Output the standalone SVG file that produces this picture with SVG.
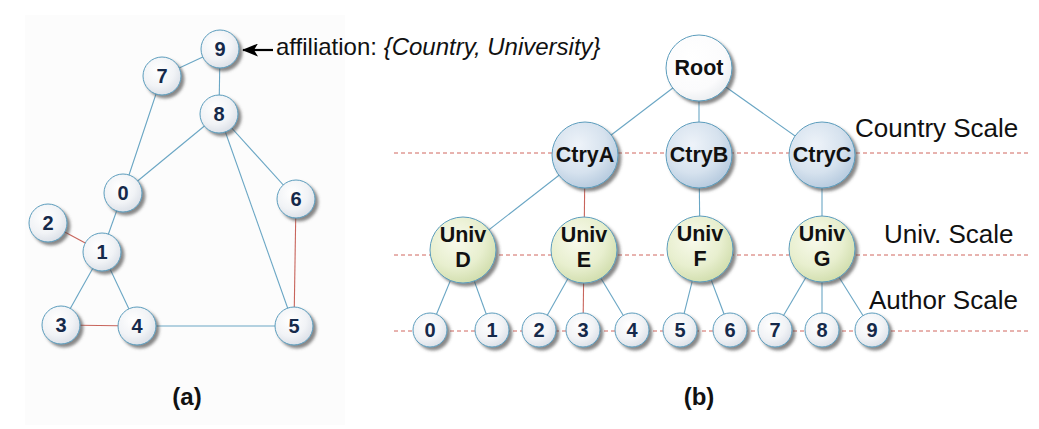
<svg xmlns="http://www.w3.org/2000/svg" width="1039" height="429" viewBox="0 0 1039 429">
<defs>
<filter id="sh" x="-30%" y="-30%" width="170%" height="170%">
<feDropShadow dx="3" dy="3" stdDeviation="1.8" flood-color="#4a4a4a" flood-opacity="0.65"/>
</filter>
<radialGradient id="gN" cx="40%" cy="35%" r="70%">
<stop offset="0" stop-color="#ffffff"/><stop offset="0.6" stop-color="#f1f3f6"/><stop offset="1" stop-color="#d9dee6"/>
</radialGradient>
<radialGradient id="gC" cx="40%" cy="35%" r="70%">
<stop offset="0" stop-color="#eef3f9"/><stop offset="0.6" stop-color="#d6e2ee"/><stop offset="1" stop-color="#b3c8dd"/>
</radialGradient>
<radialGradient id="gU" cx="40%" cy="35%" r="70%">
<stop offset="0" stop-color="#f8faec"/><stop offset="0.6" stop-color="#e8efcf"/><stop offset="1" stop-color="#cfdcaa"/>
</radialGradient>
<radialGradient id="gR" cx="40%" cy="35%" r="70%">
<stop offset="0" stop-color="#ffffff"/><stop offset="0.7" stop-color="#fbfbfc"/><stop offset="1" stop-color="#e9ecef"/>
</radialGradient>
<marker id="arr" viewBox="0 0 16 13" refX="15" refY="6.5" markerWidth="16" markerHeight="13" markerUnits="userSpaceOnUse" orient="auto">
<path d="M0,0 L16,6.5 L0,13 L4,6.5 z" fill="#000"/>
</marker>
<style>
.edge{stroke:#6aa6c4;stroke-width:1.1;fill:none}
.red{stroke:#c8655c}
.scale{stroke:#d0675e;stroke-width:1;stroke-dasharray:4 3;fill:none}
.n circle{stroke:#5b9cbc;stroke-width:1;filter:url(#sh)}
.gn{fill:url(#gN)}
.gc{fill:url(#gC)}
.gu{fill:url(#gU)}
.gr{fill:url(#gR)}
.num{font-family:"Liberation Sans",Arial,sans-serif;font-weight:bold;font-size:20px;fill:#15294a;text-anchor:middle}
.lab{font-family:"Liberation Sans",Arial,sans-serif;font-weight:bold;font-size:21.5px;fill:#111;text-anchor:middle}
.st{font-family:"Liberation Sans",Arial,sans-serif;font-size:26px;fill:#111}
.cap{font-family:"Liberation Sans",Arial,sans-serif;font-weight:bold;font-size:24px;fill:#111;text-anchor:middle}
.aff{font-family:"Liberation Sans",Arial,sans-serif;font-size:24px;fill:#111}
</style>
</defs>
<rect width="1039" height="429" fill="#ffffff"/>
<rect x="25" y="15" width="320" height="410" fill="#fcfcfc"/>

<g id="scales">
<line class="scale" x1="394" y1="153" x2="1028" y2="153"/>
<line class="scale" x1="394" y1="255" x2="1028" y2="255"/>
<line class="scale" x1="394" y1="331" x2="1028" y2="331"/>
</g>

<g id="connectors">
<!-- (a) -->
<line class="edge" x1="220" y1="49" x2="162" y2="76"/>
<line class="edge" x1="220" y1="49" x2="219" y2="114"/>
<line class="edge" x1="162" y1="76" x2="123" y2="193"/>
<line class="edge" x1="219" y1="114" x2="123" y2="193"/>
<line class="edge" x1="219" y1="114" x2="296" y2="199"/>
<line class="edge" x1="219" y1="114" x2="294" y2="326"/>
<line class="edge red" x1="296" y1="199" x2="294" y2="326"/>
<line class="edge" x1="123" y1="193" x2="102" y2="252"/>
<line class="edge red" x1="48" y1="223" x2="102" y2="252"/>
<line class="edge" x1="102" y1="252" x2="61" y2="325"/>
<line class="edge" x1="102" y1="252" x2="137" y2="326"/>
<line class="edge red" x1="61" y1="325" x2="137" y2="326"/>
<line class="edge" x1="137" y1="326" x2="294" y2="326"/>
<line x1="273" y1="50" x2="243" y2="50" stroke="#000" stroke-width="2.2" marker-end="url(#arr)"/>
<!-- (b) -->
<line class="edge" x1="699" y1="68" x2="585" y2="155"/>
<line class="edge" x1="699" y1="68" x2="699" y2="155"/>
<line class="edge" x1="699" y1="68" x2="822" y2="155"/>
<line class="edge" x1="585" y1="155" x2="463" y2="250"/>
<line class="edge red" x1="585" y1="155" x2="584" y2="250"/>
<line class="edge" x1="699" y1="155" x2="700" y2="250"/>
<line class="edge" x1="822" y1="155" x2="822" y2="250"/>
<line class="edge" x1="463" y1="250" x2="430" y2="330"/>
<line class="edge" x1="463" y1="250" x2="492" y2="330"/>
<line class="edge" x1="584" y1="250" x2="539" y2="330"/>
<line class="edge red" x1="584" y1="250" x2="583" y2="330"/>
<line class="edge" x1="584" y1="250" x2="632" y2="330"/>
<line class="edge" x1="700" y1="250" x2="680" y2="330"/>
<line class="edge" x1="700" y1="250" x2="730" y2="330"/>
<line class="edge" x1="822" y1="250" x2="775" y2="330"/>
<line class="edge" x1="822" y1="250" x2="822" y2="330"/>
<line class="edge" x1="822" y1="250" x2="872" y2="330"/>
</g>

<!-- (a) nodes -->
<g id="a9" class="n"><circle class="gn" cx="220" cy="49" r="19"/><text class="num" x="220" y="56">9</text></g>
<g id="a7" class="n"><circle class="gn" cx="162" cy="76" r="19"/><text class="num" x="162" y="83">7</text></g>
<g id="a8" class="n"><circle class="gn" cx="219" cy="114" r="19"/><text class="num" x="219" y="121">8</text></g>
<g id="a0" class="n"><circle class="gn" cx="123" cy="193" r="19"/><text class="num" x="123" y="200">0</text></g>
<g id="a6" class="n"><circle class="gn" cx="296" cy="199" r="19"/><text class="num" x="296" y="206">6</text></g>
<g id="a2" class="n"><circle class="gn" cx="48" cy="223" r="19"/><text class="num" x="48" y="230">2</text></g>
<g id="a1" class="n"><circle class="gn" cx="102" cy="252" r="19"/><text class="num" x="102" y="259">1</text></g>
<g id="a3" class="n"><circle class="gn" cx="61" cy="325" r="19"/><text class="num" x="61" y="332">3</text></g>
<g id="a4" class="n"><circle class="gn" cx="137" cy="326" r="19"/><text class="num" x="137" y="333">4</text></g>
<g id="a5" class="n"><circle class="gn" cx="294" cy="326" r="19"/><text class="num" x="294" y="333">5</text></g>

<text class="aff" x="276" y="55">affiliation: <tspan font-style="italic">{Country, University}</tspan></text>
<text class="cap" x="187" y="405">(a)</text>

<!-- (b) nodes -->
<g id="root" class="n"><circle class="gr" cx="699" cy="68" r="33"/><text class="lab" x="699" y="75">Root</text></g>
<g id="ctryA" class="n"><circle class="gc" cx="585" cy="155" r="33"/><text class="lab" x="585" y="162">CtryA</text></g>
<g id="ctryB" class="n"><circle class="gc" cx="699" cy="155" r="33"/><text class="lab" x="699" y="162">CtryB</text></g>
<g id="ctryC" class="n"><circle class="gc" cx="822" cy="155" r="33"/><text class="lab" x="822" y="162">CtryC</text></g>
<g id="univD" class="n"><circle class="gu" cx="463" cy="250" r="33"/><text class="lab" x="463" y="242" font-size="22">Univ</text><text class="lab" x="463" y="267" font-size="22">D</text></g>
<g id="univE" class="n"><circle class="gu" cx="584" cy="250" r="33"/><text class="lab" x="584" y="242" font-size="22">Univ</text><text class="lab" x="584" y="267" font-size="22">E</text></g>
<g id="univF" class="n"><circle class="gu" cx="700" cy="249" r="33"/><text class="lab" x="700" y="241" font-size="22">Univ</text><text class="lab" x="700" y="266" font-size="22">F</text></g>
<g id="univG" class="n"><circle class="gu" cx="822" cy="249" r="33"/><text class="lab" x="822" y="241" font-size="22">Univ</text><text class="lab" x="822" y="266" font-size="22">G</text></g>

<g id="b0" class="n"><circle class="gn" cx="430" cy="330" r="17"/><text class="num" x="430" y="337">0</text></g>
<g id="b1" class="n"><circle class="gn" cx="492" cy="330" r="17"/><text class="num" x="492" y="337">1</text></g>
<g id="b2" class="n"><circle class="gn" cx="539" cy="330" r="17"/><text class="num" x="539" y="337">2</text></g>
<g id="b3" class="n"><circle class="gn" cx="583" cy="330" r="17"/><text class="num" x="583" y="337">3</text></g>
<g id="b4" class="n"><circle class="gn" cx="632" cy="330" r="17"/><text class="num" x="632" y="337">4</text></g>
<g id="b5" class="n"><circle class="gn" cx="680" cy="330" r="17"/><text class="num" x="680" y="337">5</text></g>
<g id="b6" class="n"><circle class="gn" cx="730" cy="330" r="17"/><text class="num" x="730" y="337">6</text></g>
<g id="b7" class="n"><circle class="gn" cx="775" cy="330" r="17"/><text class="num" x="775" y="337">7</text></g>
<g id="b8" class="n"><circle class="gn" cx="822" cy="330" r="17"/><text class="num" x="822" y="337">8</text></g>
<g id="b9" class="n"><circle class="gn" cx="872" cy="330" r="17"/><text class="num" x="872" y="337">9</text></g>

<text class="st" x="855" y="137">Country Scale</text>
<text class="st" x="884" y="243">Univ. Scale</text>
<text class="st" x="869" y="309">Author Scale</text>
<text class="cap" x="699" y="405">(b)</text>
</svg>
